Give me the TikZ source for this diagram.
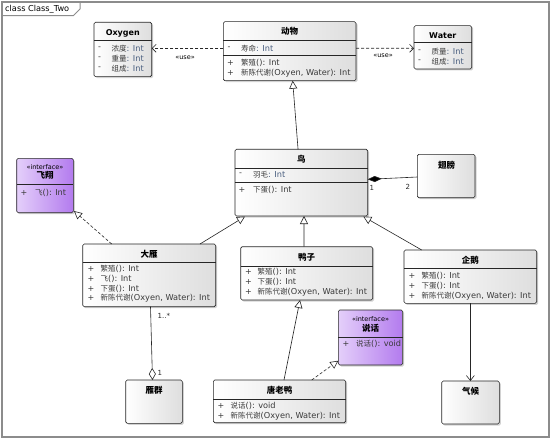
\documentclass[tikz,border=0pt]{standalone}
\usepackage{fontspec}
\setmainfont{DejaVu Sans}
\newfontfamily\cjk{Noto Sans CJK SC}
\usetikzlibrary{arrows.meta,shadows}
\definecolor{framec}{HTML}{8C8C8C}
\definecolor{txt}{HTML}{3A3A3A}
\definecolor{typ}{HTML}{4A5F80}
\definecolor{purL}{HTML}{E4CFFA}
\definecolor{purR}{HTML}{B37BEE}
\newcommand{\zh}[1]{{\cjk\fontsize{7.5}{9}\selectfont #1}}
\newcommand{\zhb}[1]{{\cjk\bfseries\fontsize{8.5}{10}\selectfont #1}}
\newcommand{\ty}[1]{\textcolor{typ}{#1}}
\newcommand{\divline}[2]{\draw[divl] ([yshift=-#2pt]#1.north west) -- ([yshift=-#2pt]#1.north east);}
\tikzset{
  cls/.style={draw=black!85, line width=0.6pt, rounded corners=1.5pt,
    left color=white, right color=black!13,
    drop shadow={shadow xshift=1.5pt, shadow yshift=-1.5pt, opacity=0.35},
    anchor=north west, inner sep=0pt, outer sep=0pt},
  iface/.style={cls, left color=purL, right color=purR},
  divl/.style={draw=black!85, line width=0.6pt},
  ttl/.style={font=\bfseries\fontsize{8}{10}\selectfont, text=black, inner sep=0pt, anchor=center},
  ster/.style={font=\fontsize{6.5}{8}\selectfont, text=black, inner sep=0pt, anchor=center},
  vis/.style={font=\fontsize{8}{10}\selectfont, text=txt, inner sep=0pt, anchor=west},
  row/.style={font=\fontsize{8.2}{10}\selectfont, text=txt, inner sep=0pt, anchor=west},
  mult/.style={font=\fontsize{7}{8}\selectfont, text=black!85, inner sep=0pt, anchor=west},
  conn/.style={draw=black!85, line width=0.6pt},
  gen/.style={conn, -{Triangle[length=8pt,width=8pt,fill=white]}},
  realize/.style={gen, dash pattern=on 3pt off 2pt},
  dep/.style={conn, dash pattern=on 3pt off 2pt, -{Straight Barb[length=4pt,width=8pt]}},
  assoc/.style={conn, -{Straight Barb[length=5pt,width=8pt]}},
  comp/.style={conn, -{Diamond[length=14pt,width=6pt,fill=black]}},
  aggr/.style={conn, -{Diamond[length=12pt,width=7pt,fill=white]}},
}
\begin{document}
\begin{tikzpicture}[x=1pt,y=-1pt]
\useasboundingbox (0,0) rectangle (554,441);
\fill[white] (0,0) rectangle (554,441);
% frame
\draw[framec, line width=1.2pt] (2,2) rectangle (549,437);
\draw[framec, line width=1pt] (2,15.7) -- (73.3,15.7) -- (80,9) -- (80,2);
\node[font=\fontsize{8.2}{9}\selectfont, anchor=west, inner sep=0pt] (frl) at (5,9) {class Class\_Two};

% Oxygen
\node[cls, minimum width=57.7pt, minimum height=54.4pt] (oxy) at (94,22.3) {};
\divline{oxy}{18.4}
\node[ttl] (oxyT) at (122.8,33.5) {Oxygen};
\node[vis] (oxyV1) at (98,48.3) {-};
\node[vis] (oxyV2) at (98,58.3) {-};
\node[vis] (oxyV3) at (98,68.3) {-};
\node[row] (oxyR1) at (111.5,48.3) {\zh{浓度}\ty{: Int}};
\node[row] (oxyR2) at (111.5,58.3) {\zh{重量}\ty{: Int}};
\node[row] (oxyR3) at (111.5,68.3) {\zh{组成}\ty{: Int}};

% Animal
\node[cls, minimum width=132.7pt, minimum height=59pt] (animal) at (223.3,21.7) {};
\divline{animal}{18.3}
\divline{animal}{34}
\node[ttl] (animalT) at (289.7,31.3) {\zhb{动物}};
\node[vis] (anV1) at (227.5,48.3) {-};
\node[row] (anR1) at (241,48.3) {\zh{寿命}\ty{: Int}};
\node[vis] (anV2) at (227,63.3) {+};
\node[vis] (anV3) at (227,73.3) {+};
\node[row] (anR2) at (241,63.3) {\zh{繁殖}(): Int};
\node[row] (anR3) at (241,73.3) {\zh{新陈代谢}(Oxyen, Water): Int};

% Water
\node[cls, minimum width=57.7pt, minimum height=43.3pt] (water) at (414,25.7) {};
\divline{water}{16.6}
\node[ttl] (waterT) at (442.8,35.5) {Water};
\node[vis] (waV1) at (418,51.7) {-};
\node[vis] (waV2) at (418,61.7) {-};
\node[row] (waR1) at (431.5,51.7) {\zh{质量}\ty{: Int}};
\node[row] (waR2) at (431.5,61.7) {\zh{组成}\ty{: Int}};

% Bird
\node[cls, minimum width=132.7pt, minimum height=66.7pt] (bird) at (235,149.3) {};
\divline{bird}{19}
\divline{bird}{33.4}
\node[ttl] (birdT) at (301.3,159.5) {\zhb{鸟}};
\node[vis] (biV1) at (239,174.7) {-};
\node[row] (biR1) at (253,174.7) {\zh{羽毛}\ty{: Int}};
\node[vis] (biV2) at (238.5,190) {+};
\node[row] (biR2) at (253,190) {\zh{下蛋}(): Int};

% Wing
\node[cls, minimum width=57.7pt, minimum height=43.4pt] (wing) at (417.3,154.3) {};
\node[ttl] (wingT) at (446.5,165) {\zhb{翅膀}};

% Fly interface
\node[iface, minimum width=56.6pt, minimum height=54.4pt] (fly) at (16.7,158.3) {};
\divline{fly}{26}
\node[ster] (flyS) at (45,166.7) {«interface»};
\node[ttl] (flyT) at (45,175.5) {\zhb{飞翔}};
\node[vis] (flV1) at (20.5,192.7) {+};
\node[row] (flR1) at (35,192.7) {\zh{飞}(): Int};

% Goose
\node[cls, minimum width=133pt, minimum height=62.7pt] (goose) at (82.7,244) {};
\divline{goose}{18.7}
\node[ttl] (gooseT) at (149.2,254.5) {\zhb{大雁}};
\node[vis] (goV1) at (87.5,269) {+};
\node[vis] (goV2) at (87.5,278.8) {+};
\node[vis] (goV3) at (87.5,288.6) {+};
\node[vis] (goV4) at (87.5,298.4) {+};
\node[row] (goR1) at (100.5,269) {\zh{繁殖}(): Int};
\node[row] (goR2) at (100.5,278.8) {\zh{飞}(): Int};
\node[row] (goR3) at (100.5,288.6) {\zh{下蛋}(): Int};
\node[row] (goR4) at (100.5,298.4) {\zh{新陈代谢}(Oxyen, Water): Int};

% Duck
\node[cls, minimum width=132pt, minimum height=53.3pt] (duck) at (240.7,246.7) {};
\divline{duck}{19.3}
\node[ttl] (duckT) at (306.7,257.8) {\zhb{鸭子}};
\node[vis] (duV1) at (245,271.7) {+};
\node[vis] (duV2) at (245,281.8) {+};
\node[vis] (duV3) at (245,291.9) {+};
\node[row] (duR1) at (257.5,271.7) {\zh{繁殖}(): Int};
\node[row] (duR2) at (257.5,281.8) {\zh{下蛋}(): Int};
\node[row] (duR3) at (257.5,291.9) {\zh{新陈代谢}(Oxyen, Water): Int};

% Penguin
\node[cls, minimum width=132.7pt, minimum height=53.3pt] (penguin) at (404,250) {};
\divline{penguin}{18.3}
\node[ttl] (penguinT) at (470.3,260.2) {\zhb{企鹅}};
\node[vis] (peV1) at (408.5,276) {+};
\node[vis] (peV2) at (408.5,286) {+};
\node[vis] (peV3) at (408.5,296) {+};
\node[row] (peR1) at (421.5,276) {\zh{繁殖}(): Int};
\node[row] (peR2) at (421.5,286) {\zh{下蛋}(): Int};
\node[row] (peR3) at (421.5,296) {\zh{新陈代谢}(Oxyen, Water): Int};

% Speak interface
\node[iface, minimum width=64.4pt, minimum height=55pt] (speak) at (338.3,310) {};
\divline{speak}{27.3}
\node[ster] (speakS) at (370.5,319.3) {«interface»};
\node[ttl] (speakT) at (370.5,328.7) {\zhb{说话}};
\node[vis] (spV1) at (342.5,344) {+};
\node[row] (spR1) at (356,344) {\zh{说话}(): void};

% Flock
\node[cls, minimum width=56.6pt, minimum height=43.3pt] (flock) at (125.7,380) {};
\node[ttl] (flockT) at (154,390.5) {\zhb{雁群}};

% Donald duck
\node[cls, minimum width=132.4pt, minimum height=42.7pt] (dl) at (213.3,380) {};
\divline{dl}{19}
\node[ttl] (dlT) at (279.5,390.5) {\zhb{唐老鸭}};
\node[vis] (dlV1) at (217.5,406) {+};
\node[vis] (dlV2) at (217.5,416) {+};
\node[row] (dlR1) at (230.5,406) {\zh{说话}(): void};
\node[row] (dlR2) at (230.5,416) {\zh{新陈代谢}(Oxyen, Water): Int};

% Climate
\node[cls, minimum width=57.6pt, minimum height=43pt] (climate) at (441.7,381) {};
\node[ttl] (climateT) at (470.5,391) {\zhb{气候}};

% connectors
\draw[dep] ([yshift=2.9pt]animal.west) -- ([yshift=1.2pt]oxy.east);
\node[ster] (use1) at (185,58) {«use»};
\draw[dep] ([yshift=2.9pt]animal.east) -- ([yshift=-0.95pt]water.west);
\node[ster] (use2) at (383,56) {«use»};
\draw[gen] ([xshift=-3.3pt]bird.north) -- ([xshift=3pt]animal.south);
\draw[comp] ([yshift=-1pt]wing.west) -- ([yshift=3.3pt]bird.east);
\node[mult] (m1) at (369.5,188) {1};
\node[mult] (m2) at (405.5,186.5) {2};
\draw[realize] ([xshift=-37.5pt]goose.north) -- ([xshift=0.7pt,yshift=1.7pt]fly.south east);
\draw[gen] ([xshift=50.8pt]goose.north) -- ([xshift=10pt,yshift=-0.5pt]bird.south west);
\draw[gen] ([xshift=-2.7pt]duck.north) -- ([xshift=2.65pt]bird.south);
\draw[gen] ([xshift=-48.65pt]penguin.north) -- ([xshift=-4.4pt,yshift=-0.5pt]bird.south east);
\draw[aggr] ([xshift=1.3pt]goose.south) -- ([xshift=-1.5pt]flock.north);
\node[mult] (m3) at (157.5,316) {1..*};
\node[mult] (m4) at (157.5,372.5) {1};
\draw[gen] ([xshift=4.5pt]dl.north) -- ([xshift=-6.7pt]duck.south);
\draw[realize] ([xshift=32.2pt]dl.north) -- ([yshift=4.3pt]speak.south west);
\draw[assoc] (penguin.south) -- (penguin.south |- climate.north);
\end{tikzpicture}
\end{document}
